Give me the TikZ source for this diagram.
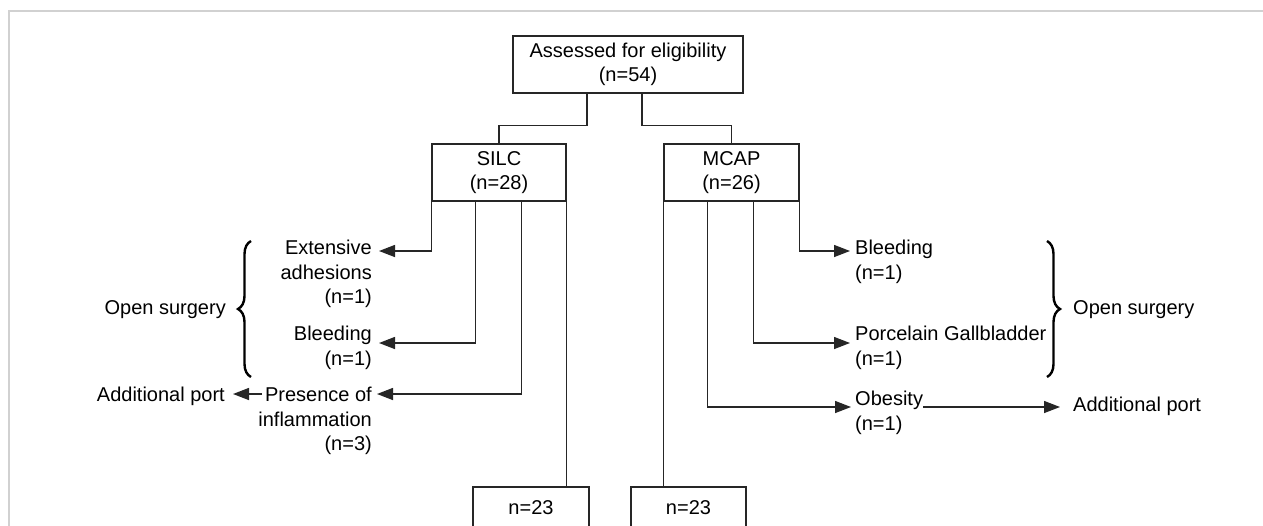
\documentclass[tikz,border=0pt]{standalone}
\usepackage{fontspec}
\setmainfont{Liberation Sans}
\usetikzlibrary{arrows.meta,decorations.pathreplacing}
\begin{document}
\begin{tikzpicture}[x=1pt,y=-1pt,
  every node/.style={font=\fontsize{20}{24.5}\selectfont, text=black},
  box/.style={draw=black!85, line width=1.4pt, align=center, inner sep=0pt},
  lbl/.style={inner sep=0pt},
  conn/.style={draw=black!85, line width=1.4pt},
  arr/.style={conn, -{Triangle[length=16pt,width=12pt]}},
  brc/.style={draw=black, line width=2.4pt, decorate, decoration={brace, amplitude=13pt, aspect=0.5}},
  frame/.style={draw=black!18, line width=1.5pt}]
\useasboundingbox (0,0) rectangle (1263,525);
\fill[white] (0,0) rectangle (1263,525);
\clip (0,0) rectangle (1263,525);
\draw[frame] (9,530) -- (9,11) -- (1270,11);

% boxes
\node[box, minimum width=230pt, minimum height=57pt] (top) at (628,64.5) {Assessed for eligibility\\(n=54)};
\node[box, minimum width=134pt, minimum height=57pt] (silc) at (499,172.5) {SILC\\(n=28)};
\node[box, minimum width=135pt, minimum height=57pt] (mcap) at (731.5,172.5) {MCAP\\(n=26)};
\node[box, minimum width=116pt, minimum height=42pt] (n23l) at (531,508) {n=23};
\node[box, minimum width=115pt, minimum height=42pt] (n23r) at (688.5,508) {n=23};

% left labels
\node[lbl, align=right, anchor=north east] (ext) at (372,240) {Extensive\\adhesions\\(n=1)};
\node[lbl, align=right, anchor=north east] (bleedL) at (372,326) {Bleeding\\(n=1)};
\node[lbl, align=right, anchor=north east] (pres) at (372,387) {Presence of\\inflammation\\(n=3)};
\node[lbl, anchor=north east] (addL) at (225,387) {Additional port};
\node[lbl, anchor=east] (openL) at (226,310) {Open surgery};

% right labels
\node[lbl, align=left, anchor=north west] (bleedR) at (855,240) {Bleeding\\(n=1)};
\node[lbl, align=left, anchor=north west] (porc) at (855,326) {Porcelain Gallbladder\\(n=1)};
\node[lbl, align=left, anchor=north west] (obes) at (855,391) {Obesity\\(n=1)};
\node[lbl, anchor=north west] (addR) at (1073,397) {Additional port};
\node[lbl, anchor=west] (openR) at (1073,310) {Open surgery};

% top connectors
\draw[conn] ([xshift=-41pt]top.south) -- ++(0,32) -| (silc.north);
\draw[conn] ([xshift=14pt]top.south) -- ++(0,32) -| (mcap.north);

% SILC connectors
\draw[arr] (silc.south west) |- ([xshift=7pt,yshift=-11pt]ext.north east);
\draw[arr] ([xshift=44pt]silc.south west) |- ([xshift=7pt,yshift=-17pt]bleedL.north east);
\draw[arr] ([xshift=90pt]silc.south west) |- ([xshift=5pt,yshift=-7pt]pres.north east);
\draw[conn] (silc.south east) -- (silc.south east |- n23l.north);
\draw[arr] ([xshift=-110pt,yshift=-7pt]pres.north east) -- ([xshift=8pt,yshift=-7pt]addL.north east);

% MCAP connectors
\draw[conn] (mcap.south west) -- (mcap.south west |- n23r.north);
\draw[arr] ([xshift=44pt]mcap.south west) |- ([xshift=-4pt,yshift=-16pt]obes.north west);
\draw[arr] ([xshift=90pt]mcap.south west) |- ([xshift=-5pt,yshift=-17pt]porc.north west);
\draw[arr] (mcap.south east) |- ([xshift=-5pt,yshift=-11pt]bleedR.north west);
\draw[arr] ([yshift=-16pt]obes.north east) -- ([xshift=-13pt,yshift=-10pt]addR.north west);

% braces
\draw[brc] (251,377) -- (251,241);
\draw[brc] (1047,241) -- (1047,377);
\end{tikzpicture}
\end{document}
